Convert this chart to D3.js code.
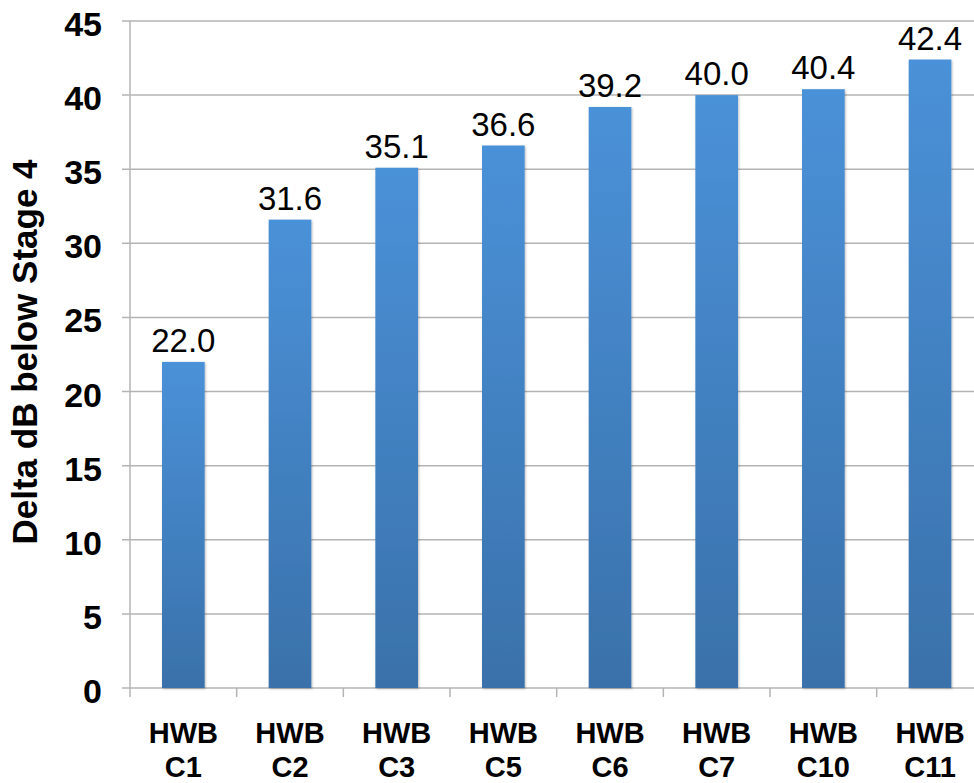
<!DOCTYPE html>
<html><head><meta charset="utf-8">
<script src="https://cdn.jsdelivr.net/npm/d3@7"></script>
<style>html,body{margin:0;padding:0;background:#fff;}svg{display:block;font-family:"Liberation Sans",Arial,Helvetica,sans-serif;}</style>
</head><body>
<svg id="chart" width="974" height="783"></svg>
<script>
const categoriesTop = ["HWB","HWB","HWB","HWB","HWB","HWB","HWB","HWB"];
const categoriesBottom = ["C1","C2","C3","C5","C6","C7","C10","C11"];
const values = [22.0, 31.6, 35.1, 36.6, 39.2, 40.0, 40.4, 42.4];
const yTicks = [0,5,10,15,20,25,30,35,40,45];
const yTitle = "Delta dB below Stage 4";

(function(){
const svg = d3.select("#chart");
const mLeft = 130, mTop = 21, mBottom = 688, step = 106.67;
const ids = categoriesBottom.map((c,i)=>i);
const x = d3.scaleBand().domain(ids).range([mLeft, mLeft + step*ids.length]).paddingInner(0.6).paddingOuter(0.3);
const y = d3.scaleLinear().domain([0,45]).range([mBottom, mTop]);

const defs = svg.append("defs");
const grad = defs.append("linearGradient").attr("id","barGrad").attr("x1",0).attr("y1",0).attr("x2",0).attr("y2",1);
grad.append("stop").attr("offset","0%").attr("stop-color","#4a91d8");
grad.append("stop").attr("offset","100%").attr("stop-color","#3a71aa");
const f = defs.append("filter").attr("id","sh").attr("x","-20%").attr("y","-5%").attr("width","140%").attr("height","110%");
f.append("feDropShadow").attr("dx",1).attr("dy",1).attr("stdDeviation",1).attr("flood-color","#000").attr("flood-opacity",0.25);

svg.append("g").selectAll("line").data(yTicks).join("line")
  .attr("x1", mLeft-8).attr("x2", 974).attr("y1", d=>y(d)).attr("y2", d=>y(d))
  .attr("stroke","#b4b4b4").attr("stroke-width",1.5);
svg.append("line").attr("x1",mLeft).attr("x2",mLeft).attr("y1",mTop).attr("y2",mBottom)
  .attr("stroke","#b4b4b4").attr("stroke-width",1.5);
const bounds = d3.range(ids.length+1).map(i=>mLeft + i*x.step());
svg.append("g").selectAll("line").data(bounds).join("line")
  .attr("x1",d=>d).attr("x2",d=>d).attr("y1",mBottom).attr("y2",mBottom+9)
  .attr("stroke","#b4b4b4").attr("stroke-width",1.5);

svg.append("g").selectAll("text").data(yTicks).join("text")
  .attr("x",102).attr("y",d=>y(d)+15).attr("text-anchor","end")
  .attr("font-size",34).attr("font-weight","bold").attr("fill","#000").text(d=>d);

svg.append("g").selectAll("rect").data(values).join("rect")
  .attr("x",(d,i)=>x(i)).attr("width",x.bandwidth())
  .attr("y",d=>y(d)).attr("height",d=>mBottom-y(d))
  .attr("fill","url(#barGrad)").attr("filter","url(#sh)");

svg.append("g").selectAll("text").data(values).join("text")
  .attr("x",(d,i)=>x(i)+x.bandwidth()/2).attr("y",d=>y(d)-10).attr("text-anchor","middle")
  .attr("font-size",33).attr("fill","#000").text(d=>d.toFixed(1));

const xl = svg.append("g").selectAll("text").data(ids).join("text")
  .attr("text-anchor","middle").attr("font-size",29).attr("font-weight","bold").attr("fill","#000");
xl.append("tspan").attr("x",d=>x(d)+x.bandwidth()/2).attr("y",743).text(d=>categoriesTop[d]);
xl.append("tspan").attr("x",d=>x(d)+x.bandwidth()/2).attr("y",777).text(d=>categoriesBottom[d]);

svg.append("text").attr("transform","translate(37,352) rotate(-90)").attr("text-anchor","middle")
  .attr("font-size",35).attr("font-weight","bold").attr("fill","#000").text(yTitle);
})();
</script>
</body></html>
